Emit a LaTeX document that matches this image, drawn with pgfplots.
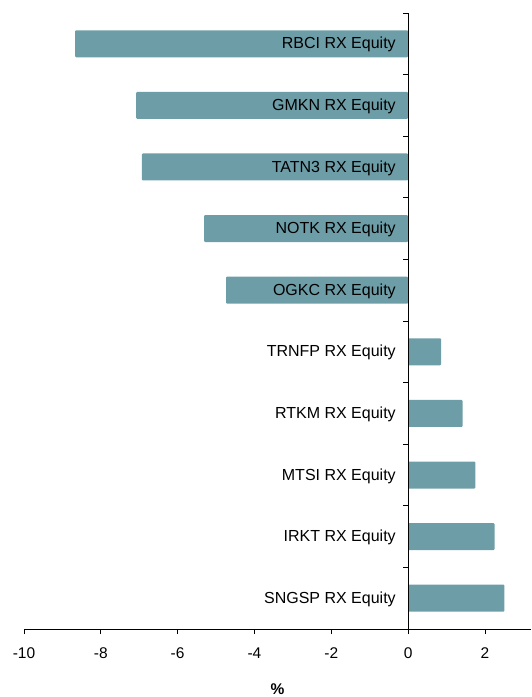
\documentclass[border=0pt]{standalone}
\usepackage{pgfplots}
\pgfplotsset{compat=1.18}
\usepackage{fontspec}
\setmainfont{Liberation Sans}
\definecolor{barc}{HTML}{6D9EA8}
\begin{document}
\fontsize{15.5}{18}\selectfont
\begin{tikzpicture}
\path[use as bounding box] (-24pt,-68pt) rectangle (507pt,629pt);
\begin{axis}[
  at={(0pt,0pt)}, anchor=south west,
  scale only axis, width=507pt, height=616pt,
  axis on top,
  xbar, bar width=27pt,
  xmin=-10, xmax=3.2, ymin=0.5, ymax=10.5,
  axis x line=bottom, axis y line=middle,
  axis line style={-, black, line width=0.8pt},
  xtick={-10,-8,...,2},
  x tick style={black, line width=0.8pt},
  xtick align=outside,
  major tick length=5pt,
  ytick={1,...,10},
  yticklabels={SNGSP RX Equity, IRKT RX Equity, MTSI RX Equity, RTKM RX Equity, TRNFP RX Equity, OGKC RX Equity, NOTK RX Equity, TATN3 RX Equity, GMKN RX Equity, RBCI RX Equity},
  major y tick style={draw=none},
  minor ytick={0.5,1.5,...,10.5},
  minor y tick style={black, line width=0.8pt},
  ytick align=outside,
  minor tick length=5pt,
  yticklabel style={anchor=east, xshift=-2pt, yshift=-1pt, font=\fontsize{16}{18}\selectfont},
  xticklabel style={yshift=-8pt, font=\fontsize{15.5}{18}\selectfont},
  /pgf/number format/assume math mode=true,
  xlabel={\textbf{\%}},
  every axis x label/.style={at={(axis description cs:0.5,0)}, anchor=center, inner sep=0pt, yshift=-60pt, font=\fontsize{15.5}{18}\selectfont},
  clip=false,
]
\addplot[fill=barc, draw=none, rounded corners=1pt] coordinates {
  (2.51,1) (2.25,2) (1.75,3) (1.42,4) (0.86,5)
  (-4.74,6) (-5.31,7) (-6.93,8) (-7.08,9) (-8.67,10)
};
\end{axis}
\end{tikzpicture}
\end{document}
